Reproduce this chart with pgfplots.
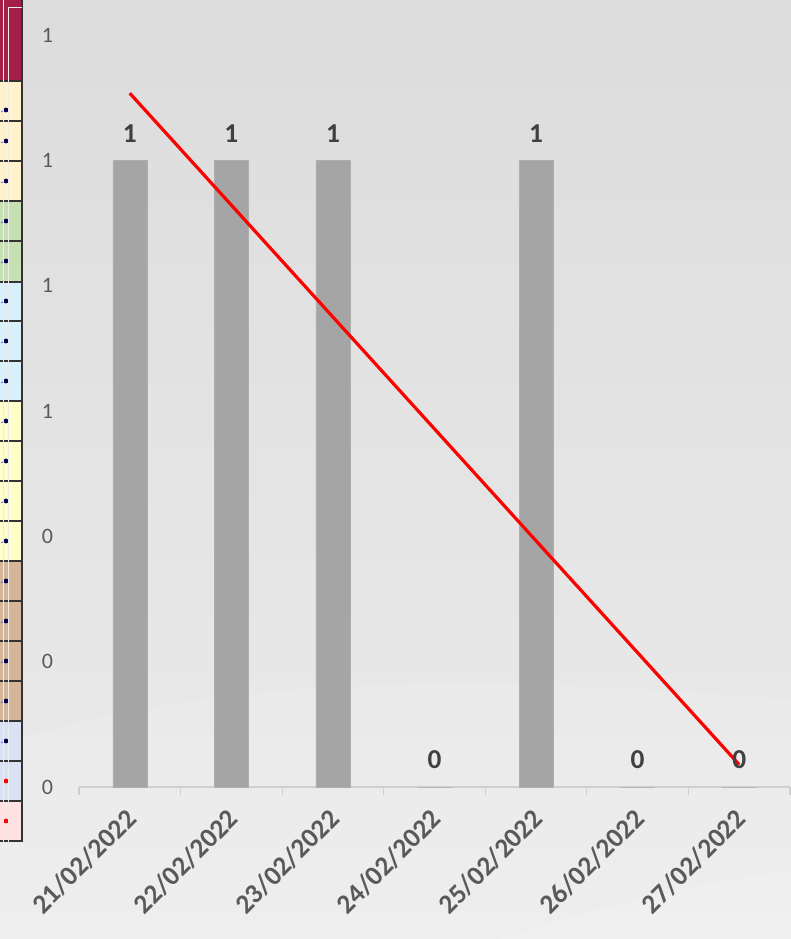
\documentclass[border=0pt]{standalone}
\usepackage{pgfplots}
\pgfplotsset{compat=1.18}
\usepackage{fontspec}
\setmainfont{Carlito}
\definecolor{bargray}{HTML}{A5A5A5}
\definecolor{lblgray}{HTML}{404040}
\definecolor{tickgray}{HTML}{595959}
\definecolor{axgray}{HTML}{CFCFCF}
\definecolor{bgtop}{HTML}{DCDCDC}
\definecolor{bgbot}{HTML}{ECECEC}
\definecolor{cmaroon}{HTML}{A31F47}
\definecolor{ccream}{HTML}{FFF2CC}
\definecolor{cgreen}{HTML}{C6E0B4}
\definecolor{cblue}{HTML}{D9F0FA}
\definecolor{cyellow}{HTML}{FFFFCC}
\definecolor{ctan}{HTML}{D5B597}
\definecolor{clav}{HTML}{D9E1F2}
\definecolor{cpink}{HTML}{FFE1E1}
\begin{document}
\begin{tikzpicture}
\useasboundingbox (0,0) rectangle (593.25pt,704.25pt);
\shade[top color=bgtop,bottom color=bgbot] (0,0) rectangle (593.25pt,704.25pt);
\begin{scope}[x=0.75pt,y=-0.75pt,shift={(0,704.25pt)}]
  % faint light swoosh
  \fill[white,opacity=0.12] (0,745) .. controls (200,680) and (450,670) .. (791,700) -- (791,939) -- (0,939) -- cycle;
  \fill[white,opacity=0.15] (500,939) .. controls (620,900) and (720,880) .. (791,870) -- (791,939) -- cycle;
  % spreadsheet strip on the left
  \fill[cmaroon] (0,0) rectangle (22,81);
  \foreach \a/\b in {81/121,121/161,161/201} {\fill[ccream] (0,\a) rectangle (22,\b);}
  \foreach \a/\b in {201/241,241/282} {\fill[cgreen] (0,\a) rectangle (22,\b);}
  \foreach \a/\b in {282/321,321/361,361/401} {\fill[cblue] (0,\a) rectangle (22,\b);}
  \foreach \a/\b in {401/441,441/481,481/521,521/561} {\fill[cyellow] (0,\a) rectangle (22,\b);}
  \foreach \a/\b in {561/601,601/641,641/681,681/721} {\fill[ctan] (0,\a) rectangle (22,\b);}
  \foreach \a/\b in {721/761,761/801} {\fill[clav] (0,\a) rectangle (22,\b);}
  \fill[cpink] (0,801) rectangle (22,841);
  \foreach \y in {81,121,161,201,241,282,321,361,401,441,481,521,561,601,641,681,721,761,801,841}
    {\draw[line width=1.5pt,black!80] (0,\y) -- (22,\y);}
  \draw[line width=1.5pt,black!80] (22,0) -- (22,842);
  \foreach \y in {110,141,181,221,261,301,341,381,421,461,501,541,581,621,661,701,741}
    {\draw[blue!60!white,line width=0.6pt] (1,\y+2) -- (4,\y); \fill[blue!30!black] (6,\y) circle (2.4);}
  \foreach \y in {781,821} {\fill[red] (6,\y) circle (2.4);}
  \draw[white!85!gray,line width=0.6pt] (3,0) -- (3,939);
  \draw[white!85!gray,line width=0.6pt] (8,7) -- (8,939);
  \draw[white!85!gray,line width=0.6pt] (8,7) -- (22,7);
  \draw[white!85!gray,line width=0.6pt] (3,857) -- (20,857);
\end{scope}
\begin{axis}[
  at={(59.25pt,114pt)}, anchor=south west,
  scale only axis, width=533.25pt, height=564pt,
  xmin=-0.5, xmax=6.5, ymin=0, ymax=1.2,
  axis line style={draw=none},
  axis x line*=bottom, axis y line*=left,
  xtick={-0.5,0.5,1.5,2.5,3.5,4.5,5.5,6.5},
  xticklabels={},
  major x tick style={draw=axgray, line width=0.8pt},
  x tick style={draw=axgray, line width=0.8pt},
  tick align=outside, major tick length=6pt,
  extra x ticks={0,1,2,3,4,5,6},
  extra x tick labels={21/02/2022,22/02/2022,23/02/2022,24/02/2022,25/02/2022,26/02/2022,27/02/2022},
  extra x tick style={major tick length=0pt, tick style={draw=none}},
  ytick={0,0.2,0.4,0.6,0.8,1.0,1.2},
  yticklabels={0,0,0,1,1,1,1},
  y tick style={draw=none},
  yticklabel style={font=\fontsize{16.5}{19}\selectfont, text=tickgray, anchor=east, xshift=-10pt},
  xticklabel style={font=\fontsize{20.5}{24}\bfseries\selectfont, text=tickgray, xshift=-4pt, yshift=-10pt, rotate=45, anchor=north east},
  /pgf/number format/assume math mode=true,
  clip=false,
]
\draw[axgray, line width=1pt] (axis cs:-0.5,0) -- (axis cs:6.5,0);
\addplot[ybar, bar width=25.5pt, fill=bargray, draw=bargray!90!white,
  nodes near coords, every node near coord/.append style={font=\fontsize{20.5}{24}\bfseries\selectfont, text=lblgray, yshift=10pt}]
  coordinates {(0,1) (1,1) (2,1) (3,0) (4,1) (5,0) (6,0)};
\addplot[red, line width=2.4pt, no marks] coordinates {(0,1.1071) (6,0.0357)};
\end{axis}
\end{tikzpicture}
\end{document}
